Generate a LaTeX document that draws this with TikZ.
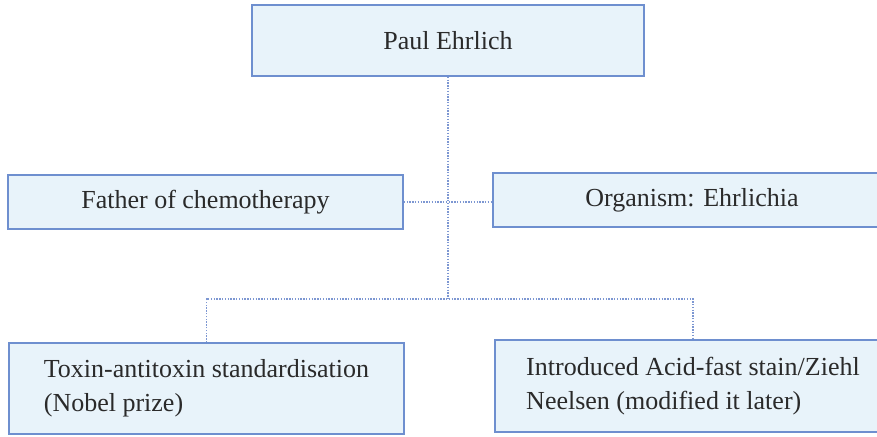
\documentclass[tikz,border=0pt]{standalone}
\usepackage{fontspec}
\setmainfont{Liberation Serif}
\definecolor{boxfill}{HTML}{E8F3FA}
\definecolor{boxline}{HTML}{6E8FCF}
\definecolor{linkcol}{HTML}{7D97D2}
\definecolor{txt}{HTML}{2A2A2A}
\tikzset{
  infobox/.style={draw=boxline, fill=boxfill, line width=1.4pt, text=txt,
    font=\fontsize{26}{34}\selectfont, align=left, inner sep=0pt},
  linkline/.style={draw=linkcol, line width=1.3pt, dash pattern=on 1.4pt off 1.4pt}
}
\begin{document}
\begin{tikzpicture}[x=1pt,y=-1pt]
\useasboundingbox (0,0) rectangle (877,436);
\node[infobox, minimum width=392pt, minimum height=71pt] (top) at (448,40.5) {Paul Ehrlich};
\node[infobox, minimum width=395pt, minimum height=54pt] (lm) at (205.5,202) {Father of chemotherapy};
\node[infobox, minimum width=398pt, minimum height=54pt] (rm) at (692,200) {Organism: Ehrlichia};
\node[infobox, minimum width=395pt, minimum height=91pt] (bl) at (206.5,388.5) {Toxin-antitoxin standardisation\\(Nobel prize)};
\node[infobox, minimum width=396pt, minimum height=92pt] (br) at (693,386) {Introduced Acid-fast stain/Ziehl\\Neelsen (modified it later)};
\coordinate (j) at (448,299);
\draw[linkline] (top.south) -- (j);
\draw[linkline] (lm.east) -- (rm.west |- lm.east);
\draw[linkline] (bl.north) |- (j) -| (br.north);
\end{tikzpicture}
\end{document}
